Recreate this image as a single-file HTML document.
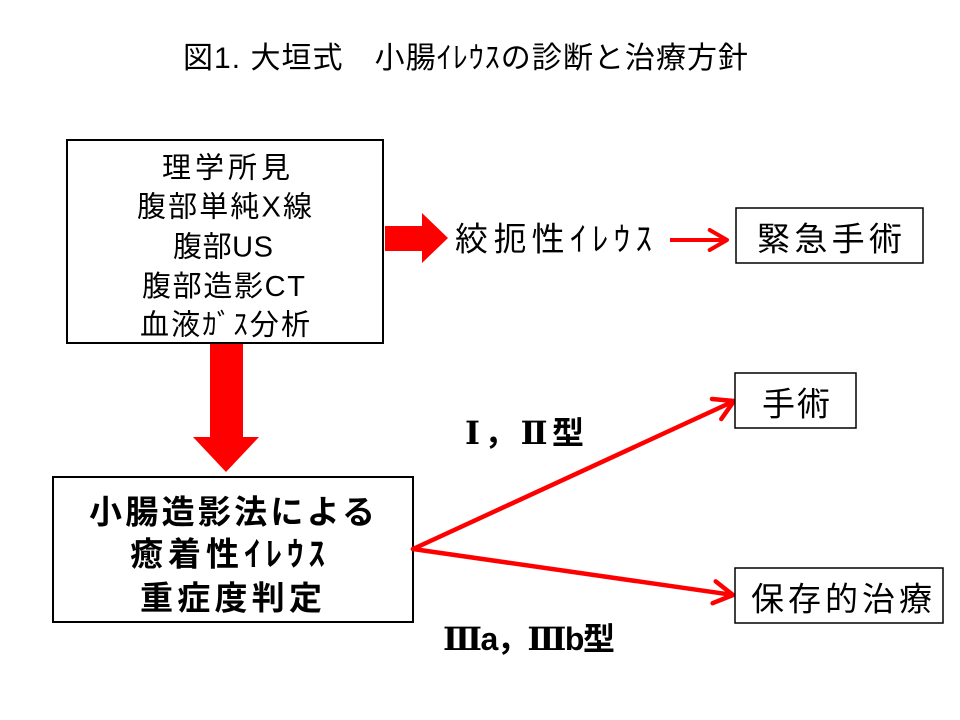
<!DOCTYPE html>
<html>
<head>
<meta charset="utf-8">
<style>
  html, body { margin: 0; padding: 0; background: #ffffff; }
  body { width: 960px; height: 720px; overflow: hidden; }
  svg { display: block; }
  text { font-family: "Liberation Sans", "Noto Sans CJK JP", sans-serif; fill: #000; }
  .b { font-weight: bold; }
  .rn { font-family: "Liberation Serif", "DejaVu Serif", "Noto Serif CJK SC", serif; font-weight: bold; }
</style>
</head>
<body>
<svg width="960" height="720" viewBox="0 0 960 720" xmlns="http://www.w3.org/2000/svg">
  <rect x="0" y="0" width="960" height="720" fill="#ffffff"/>

  <!-- Title -->
  <text x="183" y="68" font-size="30" textLength="565" lengthAdjust="spacing">図1. 大垣式　小腸ｲﾚｳｽの診断と治療方針</text>

  <!-- Box 1 -->
  <rect x="67" y="140" width="316" height="203" fill="#fff" stroke="#000" stroke-width="2"/>
  <text x="162" y="177.5" font-size="29" textLength="128" lengthAdjust="spacing">理学所見</text>
  <text x="137" y="216.5" font-size="29" textLength="175" lengthAdjust="spacing">腹部単純X線</text>
  <text x="173" y="256.5" font-size="29" textLength="100" lengthAdjust="spacing">腹部US</text>
  <text x="142" y="296" font-size="29" textLength="163" lengthAdjust="spacing">腹部造影CT</text>
  <text x="140" y="334.5" font-size="29" textLength="170" lengthAdjust="spacing">血液ｶﾞｽ分析</text>

  <!-- Big right arrow -->
  <polygon points="385,226 422,226 422,213 448,238 422,263 422,251 385,251" fill="#ff0000"/>

  <!-- 絞扼性イレウス -->
  <text x="455" y="250.5" font-size="33" textLength="197" lengthAdjust="spacing">絞扼性ｲﾚｳｽ</text>

  <!-- small red arrow -->
  <line x1="670" y1="240" x2="725" y2="240" stroke="#ff0000" stroke-width="4"/>
  <polyline points="709.7,230 727,240 709.7,250" fill="none" stroke="#ff0000" stroke-width="4" stroke-linejoin="round" stroke-linecap="round"/>

  <!-- 緊急手術 box -->
  <rect x="736" y="208" width="187" height="55" fill="#fff" stroke="#000" stroke-width="1.5"/>
  <text x="757" y="250.5" font-size="33" textLength="145" lengthAdjust="spacing">緊急手術</text>

  <!-- Big down arrow -->
  <polygon points="210,344 243,344 243,437 259,437 226,472 193,437 210,437" fill="#ff0000"/>

  <!-- Box 2 -->
  <rect x="53" y="477" width="360" height="145" fill="#fff" stroke="#000" stroke-width="2"/>
  <text class="b" x="89" y="523.5" font-size="33" textLength="286" lengthAdjust="spacing">小腸造影法による</text>
  <text class="b" x="130" y="565.5" font-size="33" textLength="195" lengthAdjust="spacing">癒着性ｲﾚｳｽ</text>
  <text class="b" x="140" y="609.5" font-size="33" textLength="182" lengthAdjust="spacing">重症度判定</text>

  <!-- Branch lines -->
  <line x1="413" y1="549" x2="732" y2="402" stroke="#ff0000" stroke-width="4.5" stroke-linecap="round"/>
  <polyline points="712,399 734,401 721.3,419" fill="none" stroke="#ff0000" stroke-width="4.5" stroke-linejoin="round" stroke-linecap="round"/>
  <line x1="413" y1="549" x2="731" y2="594.7" stroke="#ff0000" stroke-width="4.5" stroke-linecap="round"/>
  <polyline points="715.7,581.4 733,595 712.6,603.2" fill="none" stroke="#ff0000" stroke-width="4.5" stroke-linejoin="round" stroke-linecap="round"/>

  <!-- 手術 box -->
  <rect x="735" y="373" width="121" height="55" fill="#fff" stroke="#000" stroke-width="1.5"/>
  <text x="762" y="415.5" font-size="33" textLength="68" lengthAdjust="spacing">手術</text>

  <!-- 保存的治療 box -->
  <rect x="735" y="568" width="208" height="55" fill="#fff" stroke="#000" stroke-width="1.5"/>
  <text x="751" y="610.5" font-size="33" textLength="181" lengthAdjust="spacing">保存的治療</text>

  <!-- Labels -->
  <text class="b" x="465" y="444" font-size="32" textLength="119" lengthAdjust="spacing"><tspan class="rn">Ⅰ</tspan>，<tspan class="rn">Ⅱ</tspan>型</text>
  <text class="b" x="443" y="650" font-size="32" textLength="172" lengthAdjust="spacing"><tspan class="rn">Ⅲ</tspan>a，<tspan class="rn">Ⅲ</tspan>b型</text>
</svg>
</body>
</html>
